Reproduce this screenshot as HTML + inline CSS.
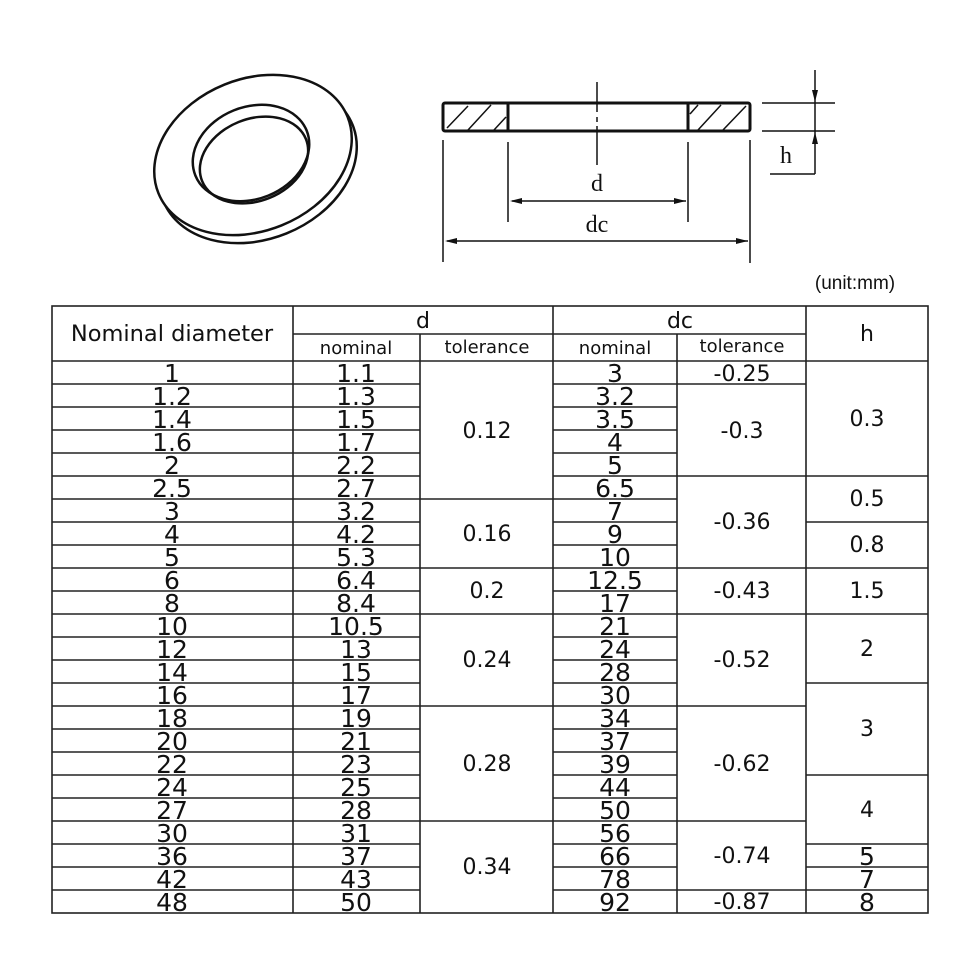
<!DOCTYPE html>
<html><head><meta charset="utf-8"><style>
html,body{margin:0;padding:0;background:#fff;}
svg{display:block;}
.v{font-family:"DejaVu Sans",sans-serif;font-size:25px;fill:#111;text-anchor:middle;}
.m{font-family:"DejaVu Sans",sans-serif;font-size:22px;fill:#111;text-anchor:middle;}
.h{font-family:"DejaVu Sans",sans-serif;fill:#111;text-anchor:middle;}
</style></head><body>
<svg width="960" height="960" viewBox="0 0 960 960" xmlns="http://www.w3.org/2000/svg">
<g fill="none" stroke="#111" stroke-width="2.5">
<ellipse cx="258" cy="163" rx="102" ry="76" transform="rotate(-22 258 163)"/>
<ellipse cx="253" cy="155" rx="102" ry="76" transform="rotate(-22 253 155)" fill="#fff"/>
<ellipse cx="251" cy="153" rx="60" ry="46" transform="rotate(-22 251 153)"/>
<ellipse cx="254" cy="160" rx="56" ry="41" transform="rotate(-22 254 160)"/>
</g>
<g stroke="#111" fill="none">
<rect x="443" y="103" width="307" height="28" stroke-width="3" rx="2"/>
<line x1="508" y1="103" x2="508" y2="131" stroke-width="3"/>
<line x1="688" y1="103" x2="688" y2="131" stroke-width="3"/>
<g stroke-width="1.5">
<line x1="447" y1="128" x2="468" y2="106"/><line x1="468" y1="130" x2="491" y2="105"/><line x1="494" y1="130" x2="506" y2="117"/>
<line x1="690" y1="114" x2="698" y2="105"/><line x1="698" y1="130" x2="721" y2="105"/><line x1="723" y1="130" x2="746" y2="106"/>
<line x1="597" y1="82" x2="597" y2="112"/><line x1="597" y1="117" x2="597" y2="122"/><line x1="597" y1="126" x2="597" y2="165"/>
<line x1="443" y1="140" x2="443" y2="262"/><line x1="750" y1="140" x2="750" y2="263"/>
<line x1="508" y1="142" x2="508" y2="222"/><line x1="688" y1="142" x2="688" y2="222"/>
<line x1="512" y1="201" x2="686" y2="201"/>
<line x1="447" y1="241" x2="748" y2="241"/>
<line x1="762" y1="103" x2="835" y2="103"/><line x1="762" y1="131" x2="835" y2="131"/>
<line x1="815" y1="70" x2="815" y2="174"/><line x1="770" y1="174" x2="815" y2="174"/>
</g>
</g>
<g fill="#111">
<polygon points="510,201 522,198 522,204"/><polygon points="686,201 674,198 674,204"/>
<polygon points="445,241 457,238 457,244"/><polygon points="748,241 736,238 736,244"/>
<polygon points="815,102 812,90 818,90"/><polygon points="815,132 812,144 818,144"/>
</g>
<text x="597" y="191" font-family="Liberation Serif,serif" font-size="24" text-anchor="middle" fill="#111">d</text>
<text x="597" y="232" font-family="Liberation Serif,serif" font-size="24" text-anchor="middle" fill="#111">dc</text>
<text x="786" y="163" font-family="Liberation Serif,serif" font-size="24" text-anchor="middle" fill="#111">h</text>
<text x="855" y="289" font-family="Liberation Sans,sans-serif" text-anchor="middle" fill="#111" font-size="19">(unit:mm)</text>

<g stroke="#222" stroke-width="1.6" fill="none">
<rect x="52" y="306" width="876" height="607"/>
<line x1="293" y1="306" x2="293" y2="913"/>
<line x1="420" y1="334" x2="420" y2="913"/>
<line x1="553" y1="306" x2="553" y2="913"/>
<line x1="677" y1="334" x2="677" y2="913"/>
<line x1="806" y1="306" x2="806" y2="913"/>
<line x1="293" y1="334" x2="806" y2="334"/>
<line x1="52" y1="361" x2="928" y2="361"/>
</g>
<g stroke="#222" stroke-width="1.4">
<line x1="52" y1="384" x2="420" y2="384"/><line x1="52" y1="407" x2="420" y2="407"/><line x1="52" y1="430" x2="420" y2="430"/><line x1="52" y1="453" x2="420" y2="453"/><line x1="52" y1="476" x2="420" y2="476"/><line x1="52" y1="499" x2="420" y2="499"/><line x1="52" y1="522" x2="420" y2="522"/><line x1="52" y1="545" x2="420" y2="545"/><line x1="52" y1="568" x2="420" y2="568"/><line x1="52" y1="591" x2="420" y2="591"/><line x1="52" y1="614" x2="420" y2="614"/><line x1="52" y1="637" x2="420" y2="637"/><line x1="52" y1="660" x2="420" y2="660"/><line x1="52" y1="683" x2="420" y2="683"/><line x1="52" y1="706" x2="420" y2="706"/><line x1="52" y1="729" x2="420" y2="729"/><line x1="52" y1="752" x2="420" y2="752"/><line x1="52" y1="775" x2="420" y2="775"/><line x1="52" y1="798" x2="420" y2="798"/><line x1="52" y1="821" x2="420" y2="821"/><line x1="52" y1="844" x2="420" y2="844"/><line x1="52" y1="867" x2="420" y2="867"/><line x1="52" y1="890" x2="420" y2="890"/>
<line x1="553" y1="384" x2="677" y2="384"/><line x1="553" y1="407" x2="677" y2="407"/><line x1="553" y1="430" x2="677" y2="430"/><line x1="553" y1="453" x2="677" y2="453"/><line x1="553" y1="476" x2="677" y2="476"/><line x1="553" y1="499" x2="677" y2="499"/><line x1="553" y1="522" x2="677" y2="522"/><line x1="553" y1="545" x2="677" y2="545"/><line x1="553" y1="568" x2="677" y2="568"/><line x1="553" y1="591" x2="677" y2="591"/><line x1="553" y1="614" x2="677" y2="614"/><line x1="553" y1="637" x2="677" y2="637"/><line x1="553" y1="660" x2="677" y2="660"/><line x1="553" y1="683" x2="677" y2="683"/><line x1="553" y1="706" x2="677" y2="706"/><line x1="553" y1="729" x2="677" y2="729"/><line x1="553" y1="752" x2="677" y2="752"/><line x1="553" y1="775" x2="677" y2="775"/><line x1="553" y1="798" x2="677" y2="798"/><line x1="553" y1="821" x2="677" y2="821"/><line x1="553" y1="844" x2="677" y2="844"/><line x1="553" y1="867" x2="677" y2="867"/><line x1="553" y1="890" x2="677" y2="890"/>
<line x1="420" y1="499" x2="553" y2="499"/><line x1="420" y1="568" x2="553" y2="568"/><line x1="420" y1="614" x2="553" y2="614"/><line x1="420" y1="706" x2="553" y2="706"/><line x1="420" y1="821" x2="553" y2="821"/>
<line x1="677" y1="384" x2="806" y2="384"/><line x1="677" y1="476" x2="806" y2="476"/><line x1="677" y1="568" x2="806" y2="568"/><line x1="677" y1="614" x2="806" y2="614"/><line x1="677" y1="706" x2="806" y2="706"/><line x1="677" y1="821" x2="806" y2="821"/><line x1="677" y1="890" x2="806" y2="890"/>
<line x1="806" y1="476" x2="928" y2="476"/><line x1="806" y1="522" x2="928" y2="522"/><line x1="806" y1="568" x2="928" y2="568"/><line x1="806" y1="614" x2="928" y2="614"/><line x1="806" y1="683" x2="928" y2="683"/><line x1="806" y1="775" x2="928" y2="775"/><line x1="806" y1="844" x2="928" y2="844"/><line x1="806" y1="867" x2="928" y2="867"/><line x1="806" y1="890" x2="928" y2="890"/>
</g>
<text x="172" y="341" class="h" font-size="22.5">Nominal diameter</text>
<text x="423" y="328" class="h" font-size="22">d</text>
<text x="680" y="328" class="h" font-size="22">dc</text>
<text x="867" y="341" class="h" font-size="22">h</text>
<text x="356" y="354" class="h" font-size="18">nominal</text>
<text x="487" y="353" class="h" font-size="18">tolerance</text>
<text x="615" y="354" class="h" font-size="18">nominal</text>
<text x="742" y="352" class="h" font-size="18">tolerance</text>
<g class="v">
<text x="172" y="382">1</text><text x="172" y="405">1.2</text><text x="172" y="428">1.4</text><text x="172" y="451">1.6</text><text x="172" y="474">2</text><text x="172" y="497">2.5</text><text x="172" y="520">3</text><text x="172" y="543">4</text><text x="172" y="566">5</text><text x="172" y="589">6</text><text x="172" y="612">8</text><text x="172" y="635">10</text><text x="172" y="658">12</text><text x="172" y="681">14</text><text x="172" y="704">16</text><text x="172" y="727">18</text><text x="172" y="750">20</text><text x="172" y="773">22</text><text x="172" y="796">24</text><text x="172" y="819">27</text><text x="172" y="842">30</text><text x="172" y="865">36</text><text x="172" y="888">42</text><text x="172" y="911">48</text>
</g>
<g class="v">
<text x="356" y="382">1.1</text><text x="356" y="405">1.3</text><text x="356" y="428">1.5</text><text x="356" y="451">1.7</text><text x="356" y="474">2.2</text><text x="356" y="497">2.7</text><text x="356" y="520">3.2</text><text x="356" y="543">4.2</text><text x="356" y="566">5.3</text><text x="356" y="589">6.4</text><text x="356" y="612">8.4</text><text x="356" y="635">10.5</text><text x="356" y="658">13</text><text x="356" y="681">15</text><text x="356" y="704">17</text><text x="356" y="727">19</text><text x="356" y="750">21</text><text x="356" y="773">23</text><text x="356" y="796">25</text><text x="356" y="819">28</text><text x="356" y="842">31</text><text x="356" y="865">37</text><text x="356" y="888">43</text><text x="356" y="911">50</text>
</g>
<g class="v">
<text x="615" y="382">3</text><text x="615" y="405">3.2</text><text x="615" y="428">3.5</text><text x="615" y="451">4</text><text x="615" y="474">5</text><text x="615" y="497">6.5</text><text x="615" y="520">7</text><text x="615" y="543">9</text><text x="615" y="566">10</text><text x="615" y="589">12.5</text><text x="615" y="612">17</text><text x="615" y="635">21</text><text x="615" y="658">24</text><text x="615" y="681">28</text><text x="615" y="704">30</text><text x="615" y="727">34</text><text x="615" y="750">37</text><text x="615" y="773">39</text><text x="615" y="796">44</text><text x="615" y="819">50</text><text x="615" y="842">56</text><text x="615" y="865">66</text><text x="615" y="888">78</text><text x="615" y="911">92</text>
</g>
<g class="m">
<text x="487" y="438">0.12</text><text x="487" y="541">0.16</text><text x="487" y="598">0.2</text><text x="487" y="667">0.24</text><text x="487" y="771">0.28</text><text x="487" y="874">0.34</text>
<text x="742" y="381">-0.25</text><text x="742" y="438">-0.3</text><text x="742" y="529">-0.36</text><text x="742" y="598">-0.43</text><text x="742" y="667">-0.52</text><text x="742" y="771">-0.62</text><text x="742" y="863">-0.74</text><text x="742" y="909">-0.87</text>
<text x="867" y="426">0.3</text><text x="867" y="506">0.5</text><text x="867" y="552">0.8</text><text x="867" y="598">1.5</text><text x="867" y="656">2</text><text x="867" y="736">3</text><text x="867" y="817">4</text>
</g>
<g class="v">
<text x="867" y="865">5</text><text x="867" y="888">7</text><text x="867" y="911">8</text>
</g>
</svg>
</body></html>
